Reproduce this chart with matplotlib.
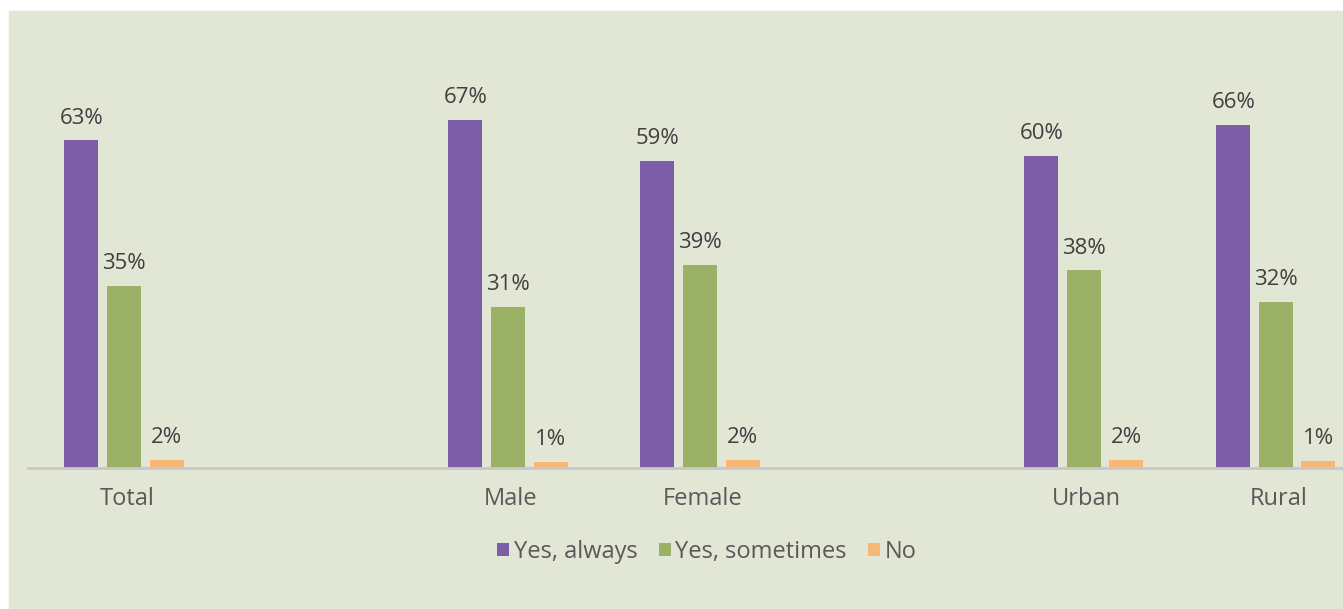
import matplotlib.pyplot as plt
from matplotlib.patches import Rectangle
import numpy as np

plt.rcParams['font.family'] = ['Open Sans', 'DejaVu Sans']

categories = ['Total', '', 'Male', 'Female', '', 'Urban', 'Rural']
series = ['Yes, always', 'Yes, sometimes', 'No']
always = [63, None, 67, 59, None, 60, 66]
sometimes = [35, None, 31, 39, None, 38, 32]
no = [1.5, None, 1.2, 1.6, None, 1.5, 1.3]
colors = ['#7b5ea7', '#9bb266', '#f9b774']

fig = plt.figure(figsize=(13.43, 6.09), dpi=100)
fig.patch.set_facecolor('white')
bg = Rectangle((9 / 1343, 1 / 609), 1, (609 - 12) / 609,
               transform=fig.transFigure, color='#e2e6d4', zorder=-5)
fig.patches.append(bg)

ax = fig.add_axes([28 / 1343, (609 - 468) / 609, (1343 - 28) / 1343, 416 / 609])
ax.set_facecolor('none')
ax.set_zorder(2)

x = np.arange(len(categories))
width = 0.177
offsets = [-0.222, 0, 0.222]
for vals, off, col, name in zip([always, sometimes, no], offsets, colors, series):
    xs = [xi + off for xi, v in zip(x, vals) if v is not None]
    vs = [v for v in vals if v is not None]
    bars = ax.bar(xs, vs, width, color=col, label=name, zorder=2)
    for b, v in zip(bars, vs):
        ax.annotate(f"{v:.0f}%", (b.get_x() + b.get_width() / 2, v),
                    xytext=(0, 8.5), textcoords='offset points',
                    ha='center', va='bottom', fontsize=16, color='#404040')

ax.set_xlim(-0.5, 6.35)
ax.set_ylim(0, 80)
ax.set_xticks(x + 0.015)
ax.set_xticklabels(categories, fontsize=17, color='#595959')
ax.tick_params(axis='x', length=0, pad=14)
ax.set_yticks([])
for s in ['top', 'right', 'left']:
    ax.spines[s].set_visible(False)
ax.spines['bottom'].set_color('#c8c8c8')
ax.spines['bottom'].set_linewidth(2)
ax.spines['bottom'].set_zorder(3)

fig.legend(loc='center', bbox_to_anchor=(707 / 1343, 57 / 609), ncol=3,
           frameon=False, fontsize=17, labelcolor='#595959',
           handlelength=0.5, handleheight=0.5, handletextpad=0.2,
           columnspacing=0.9)

fig.savefig('out.png', dpi=100, facecolor=fig.get_facecolor())
